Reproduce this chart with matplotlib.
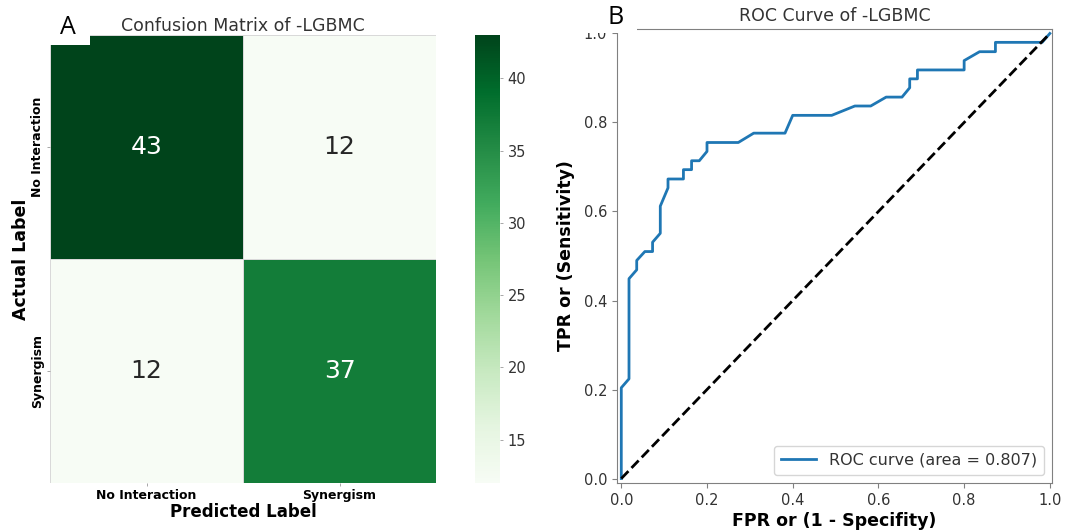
import numpy as np
import matplotlib
matplotlib.use("Agg")
import matplotlib.pyplot as plt
import seaborn as sns
from matplotlib.patches import Rectangle

# confusion matrix values (rows = actual, cols = predicted)
class_names = ['No Interaction', 'Synergism']
cm = np.array([[43, 12],
               [12, 37]])

# ROC curve points
fpr = [0.0, 0.0, 0.018, 0.018, 0.036, 0.036, 0.055, 0.073, 0.073, 0.091,
       0.091, 0.109, 0.109, 0.145, 0.145, 0.164, 0.164, 0.182, 0.2, 0.2,
       0.273, 0.309, 0.382, 0.4, 0.491, 0.545, 0.582, 0.618, 0.655, 0.673,
       0.673, 0.691, 0.691, 0.8, 0.8, 0.836, 0.873, 0.873, 0.982, 1.0]
tpr = [0.0, 0.204, 0.224, 0.449, 0.469, 0.49, 0.51, 0.51, 0.531, 0.551,
       0.612, 0.653, 0.673, 0.673, 0.694, 0.694, 0.714, 0.714, 0.735, 0.755,
       0.755, 0.776, 0.776, 0.816, 0.816, 0.837, 0.837, 0.857, 0.857, 0.878,
       0.898, 0.898, 0.918, 0.918, 0.939, 0.959, 0.959, 0.98, 0.98, 1.0]
roc_auc = 0.807

W, H = 1066, 531
fig = plt.figure(figsize=(W / 100, H / 100), dpi=100)

def box(x0, y0, x1, y1):
    # pixel box (top-left origin) -> figure fraction rect
    return [x0 / W, 1 - y1 / H, (x1 - x0) / W, (y1 - y0) / H]

ax1 = fig.add_axes(box(50, 35, 436, 483))
cax = fig.add_axes(box(475, 35, 500, 483))
ax2 = fig.add_axes(box(617, 29, 1052, 483))

# ---------- A: confusion matrix ----------
sns.heatmap(cm, annot=True, fmt='d', cmap='Greens', ax=ax1, cbar_ax=cax,
            linewidths=0.5, linecolor='#d9d9d9',
            annot_kws={'size': 18},
            xticklabels=class_names, yticklabels=class_names)
ax1.set_title('Confusion Matrix of -LGBMC', fontsize=12.5, color='#333333', pad=3)
ax1.set_xlabel('Predicted Label', fontsize=12, fontweight='bold', labelpad=1)
ax1.set_ylabel('Actual Label', fontsize=12.5, fontweight='bold', labelpad=1)
ax1.tick_params(axis='both', length=2, width=0.6, color='#999999', pad=2)
for lab in ax1.get_xticklabels():
    lab.set_fontsize(9)
    lab.set_fontweight('bold')
for lab in ax1.get_yticklabels():
    lab.set_fontsize(9)
    lab.set_fontweight('bold')
    lab.set_rotation(90)
    lab.set_va('center')
cax.tick_params(labelsize=10.5, length=2, width=0.6, color='#999999', labelcolor='#333333')

# ---------- B: ROC curve ----------
ax2.plot(fpr, tpr, color='#1f77b4', lw=2, label='ROC curve (area = %0.3f)' % roc_auc)
ax2.plot([0, 1], [0, 1], 'k--', lw=2)
ax2.set_xlim(-0.01, 1.005)
ax2.set_ylim(-0.01, 1.01)
ax2.set_xticks([0.0, 0.2, 0.4, 0.6, 0.8, 1.0])
ax2.set_yticks([0.0, 0.2, 0.4, 0.6, 0.8, 1.0])
ax2.set_title('ROC Curve of -LGBMC', fontsize=12.5, color='#333333', pad=6)
ax2.set_xlabel('FPR or (1 - Specifity)', fontsize=12.5, fontweight='bold', labelpad=3)
ax2.set_ylabel('TPR or (Sensitivity)', fontsize=12.5, fontweight='bold', labelpad=6)
ax2.tick_params(labelsize=10.5, labelcolor='#333333', color='#808080')
for s in ax2.spines.values():
    s.set_color('#808080')
ax2.legend(loc='lower right', fontsize=11.5, handlelength=2.2, borderpad=0.45,
           labelcolor='#333333')

# panel letters on white boxes
fig.patches.append(Rectangle((0, 1 - 45 / H), 90 / W, 45 / H, transform=fig.transFigure,
                             facecolor='white', edgecolor='none', zorder=10))
fig.patches.append(Rectangle((580 / W, 1 - 33 / H), 57 / W, 33 / H, transform=fig.transFigure,
                             facecolor='white', edgecolor='none', zorder=10))
fig.text(68 / W, 1 - 28 / H, 'A', fontsize=18, ha='center', va='center', zorder=11,
         family='Open Sans')
fig.text(616 / W, 1 - 18 / H, 'B', fontsize=18, ha='center', va='center', zorder=11,
         family='Open Sans')

fig.savefig('out.png', dpi=100)
